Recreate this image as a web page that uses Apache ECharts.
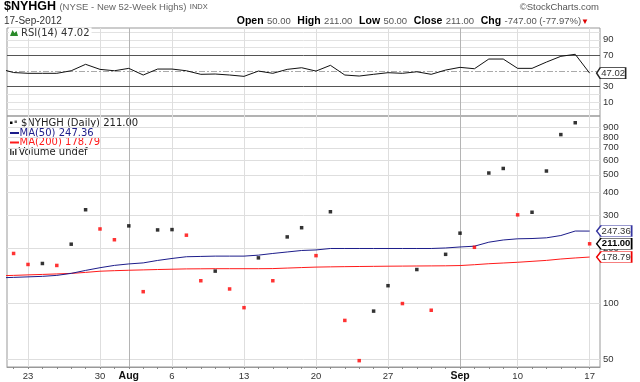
<!DOCTYPE html>
<html><head><meta charset="utf-8">
<script src="https://cdn.jsdelivr.net/npm/echarts@6.0.0/dist/echarts.min.js"></script>
<style>html,body{margin:0;padding:0;background:#fff}#c{width:640px;height:382px}</style>
</head><body><div id="c"></div>
<script>
// Trading days (Jul 19 is just left of the visible window)
const dates = ['2012-07-19','2012-07-20','2012-07-23','2012-07-24','2012-07-25','2012-07-26','2012-07-27',
 '2012-07-30','2012-07-31','2012-08-01','2012-08-02','2012-08-03','2012-08-06','2012-08-07','2012-08-08',
 '2012-08-09','2012-08-10','2012-08-13','2012-08-14','2012-08-15','2012-08-16','2012-08-17','2012-08-20',
 '2012-08-21','2012-08-22','2012-08-23','2012-08-24','2012-08-27','2012-08-28','2012-08-29','2012-08-30',
 '2012-08-31','2012-09-04','2012-09-05','2012-09-06','2012-09-07','2012-09-10','2012-09-11','2012-09-12',
 '2012-09-13','2012-09-14','2012-09-17'];
const newHighs = [200,187,163,165,161,210,323,254,222,264,116,251,252,235,133,150,120,95,177,133,230,258,
 182,315,81,49,91,125,100,153,92,185,241,202,511,541,303,313,524,826,958,211];
const ma50 = [137.9,138.7,139.6,140.5,142.2,145.8,151.3,156.5,161.1,164.1,166.2,171.4,175.7,179.5,180.2,
 180.9,180.9,180.9,183.1,187.0,190.5,194.1,195.4,199.0,199.0,199.0,199.0,199.0,199.0,199.0,199.0,200.3,
 202.8,204.8,215.3,221.3,224.6,225.4,227.4,234.0,247.5,247.36];
const ma200 = [141.5,142.2,143.1,143.9,144.8,145.8,147.6,149.8,150.8,151.6,152.3,153.0,153.6,154.2,154.4,
 154.6,154.6,154.6,154.6,154.8,155.8,156.8,157.7,158.2,158.6,158.9,159.2,159.5,159.7,159.9,160.1,160.3,
 160.8,162.5,164.5,166.0,167.5,169.5,171.5,174.5,176.8,178.79];
const rsi14 = [52.8,47.8,46.8,46.8,46.8,50.1,58.4,51.9,50.1,53.2,44.6,52.3,52.3,50.1,45.5,45.9,44.6,42.9,
 49.7,46.8,51.9,54.0,49.7,57.1,44.6,43.3,45.5,47.6,46.8,48.8,45.5,51.0,54.5,52.7,65.2,65.2,53.2,53.2,61.3,
 68.7,71.3,47.02];
const priceTicks = [50,100,200,300,400,500,600,700,800,900];
const rsiTicks = [10,30,70,90];
const rsiFaint = [0,10,20,80,90,100];
const rsiBands = [30,70];
const monthNames = ['Jan','Feb','Mar','Apr','May','Jun','Jul','Aug','Sep','Oct','Nov','Dec'];

const pair = arr => arr.map((v, i) => [i, v]);
const last = dates.length - 1;
const labelIdx = [], monthIdx = [];
dates.forEach((d, i) => {
  const dt = new Date(d + 'T00:00:00Z');
  const prev = i > 0 ? new Date(dates[i - 1] + 'T00:00:00Z') : null;
  if (prev && prev.getUTCMonth() !== dt.getUTCMonth()) { monthIdx.push(i); labelIdx.push(i); }
  else if (dt.getUTCDay() === 1) labelIdx.push(i);
});
function xLabel(v) {
  const i = Math.round(v);
  const dt = new Date(dates[i] + 'T00:00:00Z');
  if (monthIdx.includes(i)) return '{b|' + monthNames[dt.getUTCMonth()] + '}';
  return String(dt.getUTCDate());
}
const X_MIN = 0.542, X_MAX = 41.72;
const tickIdx = dates.map((d, i) => i).filter(i => i > X_MIN && i < X_MAX);
const vLines = labelIdx.map(i => ({ xAxis: i, label: { show: false },
  lineStyle: { color: monthIdx.includes(i) ? '#b4b4b4' : '#dedede' } }));
const tagPath = 'path://M0,6L5,0L40,0L40,12L5,12Z';
function tag(coord, text, border, opts) {
  opts = opts || {};
  return {
    symbol: tagPath, symbolSize: opts.size || [35, 11], symbolOffset: [opts.off || 24.5, 0],
    symbolKeepAspect: false, silent: true, animation: false, z: 10,
    itemStyle: { color: '#fff', borderColor: border, borderWidth: 1 },
    label: { show: true, position: 'inside', offset: [2, 0], color: opts.color || '#333',
      fontSize: 9.5, fontFamily: 'Liberation Sans', fontWeight: opts.bold ? 'bold' : 'normal',
      formatter: () => text },
    data: [{ coord: coord }]
  };
}
const FONT = 'Liberation Sans';
const LFONT = 'DejaVu Sans';

const option = {
  animation: false,
  backgroundColor: '#fff',
  grid: [
    { left: 7, right: 40, top: 28, height: 88, show: true, borderColor: '#999', borderWidth: 1 },
    { left: 7, right: 40, top: 116, height: 252, show: true, borderColor: '#999', borderWidth: 1 }
  ],
  xAxis: [
    { type: 'value', gridIndex: 0, min: X_MIN, max: X_MAX, axisLine: { show: false }, axisTick: { show: false },
      axisLabel: { show: false }, splitLine: { show: false } },
    { type: 'value', gridIndex: 1, min: X_MIN, max: X_MAX,
      axisLine: { show: true, lineStyle: { color: '#999' } },
      axisTick: { show: true, customValues: tickIdx, length: 2, lineStyle: { color: '#888' } },
      axisLabel: { customValues: labelIdx, formatter: xLabel, color: '#333', fontSize: 9.5, fontFamily: FONT, margin: 4,
        hideOverlap: false,
        rich: { b: { fontWeight: 'bold', fontSize: 10.5, fontFamily: FONT, color: '#111' } } },
      splitLine: { show: false } }
  ],
  yAxis: [
    { type: 'value', gridIndex: 0, min: -8.2, max: 105.2, position: 'right', axisLine: { show: false },
      axisTick: { show: false }, splitLine: { show: false },
      axisLabel: { customValues: rsiTicks, color: '#333', fontSize: 9.5, fontFamily: FONT, margin: 3, hideOverlap: false } },
    { type: 'log', logBase: 10, gridIndex: 1, min: 45.26, max: 1042, position: 'right', axisLine: { show: false },
      axisTick: { show: false }, splitLine: { show: false }, axisLabel: { show: false } }
  ],
  series: [
    { name: 'rsiGrid', type: 'line', xAxisIndex: 0, yAxisIndex: 0, data: [], silent: true, z: 1,
      markLine: { silent: true, symbol: 'none', animation: false, z: 1, label: { show: false },
        lineStyle: { color: '#e2e2e2', width: 1, type: 'solid' },
        data: [
          ...rsiFaint.map(v => ({ yAxis: v })),
          ...vLines,
          ...rsiBands.map(v => ({ yAxis: v, lineStyle: { color: '#555', width: 1, type: 'solid' } })),
          { yAxis: 50, lineStyle: { color: '#aaa', width: 1, type: [6, 2, 2, 2] } }
        ] } },
    { name: 'priceGrid', type: 'line', xAxisIndex: 1, yAxisIndex: 1, data: [], silent: true, z: 1,
      markLine: { silent: true, symbol: 'none', animation: false, z: 1,
        label: { show: true, position: 'end', distance: 3, color: '#333', fontSize: 9.5, fontFamily: FONT,
          formatter: p => String(p.value) },
        lineStyle: { color: '#dedede', width: 1, type: 'solid' },
        data: [...priceTicks.map(v => ({ yAxis: v })), ...vLines] } },
    { name: 'RSI(14)', type: 'line', xAxisIndex: 0, yAxisIndex: 0, data: pair(rsi14), showSymbol: false, z: 3,
      lineStyle: { color: '#111', width: 1 }, clip: true,
      markPoint: tag([last, rsi14[last]], rsi14[last].toFixed(2), '#222', { size: [29, 11], off: 21.5 }) },
    { name: 'MA(200)', type: 'line', xAxisIndex: 1, yAxisIndex: 1, data: pair(ma200), showSymbol: false, z: 3,
      lineStyle: { color: '#ff1a1a', width: 1 }, clip: true,
      markPoint: tag([last, ma200[last]], ma200[last].toFixed(2), '#e00') },
    { name: 'MA(50)', type: 'line', xAxisIndex: 1, yAxisIndex: 1, data: pair(ma50), showSymbol: false, z: 3,
      lineStyle: { color: '#1c1c8a', width: 1 }, clip: true,
      markPoint: tag([last, ma50[last]], ma50[last].toFixed(2), '#3535a0') },
    { name: '$NYHGH', type: 'scatter', xAxisIndex: 1, yAxisIndex: 1, data: pair(newHighs), symbol: 'rect',
      symbolSize: 3.5, clip: true, z: 4,
      itemStyle: { color: p => (p.dataIndex > 0 && newHighs[p.dataIndex] < newHighs[p.dataIndex - 1]) ? '#f00' : '#000' },
      markPoint: tag([last, newHighs[last]], newHighs[last].toFixed(2), '#000', { bold: true, color: '#000' }) }
  ],
  graphic: [
    { type: 'text', x: 4, y: 7, silent: true, style: { text: '{a|$NYHGH} {b|(NYSE - New 52-Week Highs)} {c|INDX}',
      verticalAlign: 'middle', rich: {
        a: { fontFamily: FONT, fontWeight: 'bold', fontSize: 12.5, fill: '#000' },
        b: { fontFamily: FONT, fontSize: 9.5, fill: '#666' },
        c: { fontFamily: FONT, fontSize: 7.5, fill: '#555' } } } },
    { type: 'text', x: 4, y: 21.5, silent: true, style: { text: '17-Sep-2012', fontFamily: FONT, fontSize: 10,
      fill: '#333', verticalAlign: 'middle' } },
    { type: 'text', x: 599, y: 7, silent: true, style: { text: '\u00a9StockCharts.com', fontFamily: FONT, fontSize: 9.5,
      fill: '#555', align: 'right', verticalAlign: 'middle' } },
    { type: 'text', x: 589, y: 21.5, silent: true, style: {
      text: '{l|Open} {v|50.00}  {l|High} {v|211.00}  {l|Low} {v|50.00}  {l|Close} {v|211.00}  {l|Chg} {v|-747.00 (-77.97%)}{r|\u25BC}',
      align: 'right', verticalAlign: 'middle', rich: {
        l: { fontFamily: FONT, fontWeight: 'bold', fontSize: 10.5, fill: '#000' },
        v: { fontFamily: FONT, fontSize: 9.5, fill: '#555' },
        r: { fontFamily: FONT, fontSize: 8, fill: '#d00' } } } },
    // RSI label
    { type: 'text', x: 9, y: 33, silent: true, z: 10, style: { text: 'RSI(14) 47.02', fontFamily: LFONT, fontSize: 10,
      fill: '#333', verticalAlign: 'middle', backgroundColor: '#fff', padding: [1, 2, 0, 12] } },
    { type: 'polygon', silent: true, z: 11, shape: { points: [[10, 36], [12.5, 30], [14.5, 33], [16.5, 31], [18, 36]] },
      style: { fill: '#2a8a2a' } },
    // main legend
    { type: 'rect', silent: true, shape: { x: 10, y: 121.5, width: 2.5, height: 2.5 }, style: { fill: '#000' } },
    { type: 'rect', silent: true, shape: { x: 14.5, y: 120.5, width: 2.5, height: 2.5 }, style: { fill: '#666' } },
    { type: 'text', x: 21, y: 123, silent: true, style: { text: '$NYHGH (Daily) 211.00', fontFamily: LFONT,
      fontSize: 10, fill: '#222', verticalAlign: 'middle' } },
    { type: 'line', silent: true, shape: { x1: 10, y1: 133, x2: 19, y2: 133 }, style: { stroke: '#1c1c8a', lineWidth: 2 } },
    { type: 'text', x: 19.5, y: 133, silent: true, style: { text: 'MA(50) 247.36', fontFamily: LFONT,
      fontSize: 10, fill: '#1c1c8a', verticalAlign: 'middle' } },
    { type: 'line', silent: true, shape: { x1: 10, y1: 142.5, x2: 19, y2: 142.5 }, style: { stroke: '#ff1a1a', lineWidth: 2 } },
    { type: 'text', x: 19.5, y: 142.5, silent: true, style: { text: 'MA(200) 178.79', fontFamily: LFONT,
      fontSize: 10, fill: '#ff1a1a', verticalAlign: 'middle' } },
    { type: 'rect', silent: true, shape: { x: 10, y: 149, width: 1.5, height: 6 }, style: { fill: '#444' } },
    { type: 'rect', silent: true, shape: { x: 12.5, y: 151, width: 1.5, height: 4 }, style: { fill: '#444' } },
    { type: 'rect', silent: true, shape: { x: 15, y: 148, width: 1.5, height: 7 }, style: { fill: '#444' } },
    { type: 'text', x: 18.5, y: 152, silent: true, style: { text: 'Volume undef', fontFamily: LFONT,
      fontSize: 10, fill: '#222', verticalAlign: 'middle' } }
  ]
};
const chart = echarts.init(document.getElementById('c'), null, { renderer: 'canvas' });
chart.setOption(option);
</script>
</body></html>
